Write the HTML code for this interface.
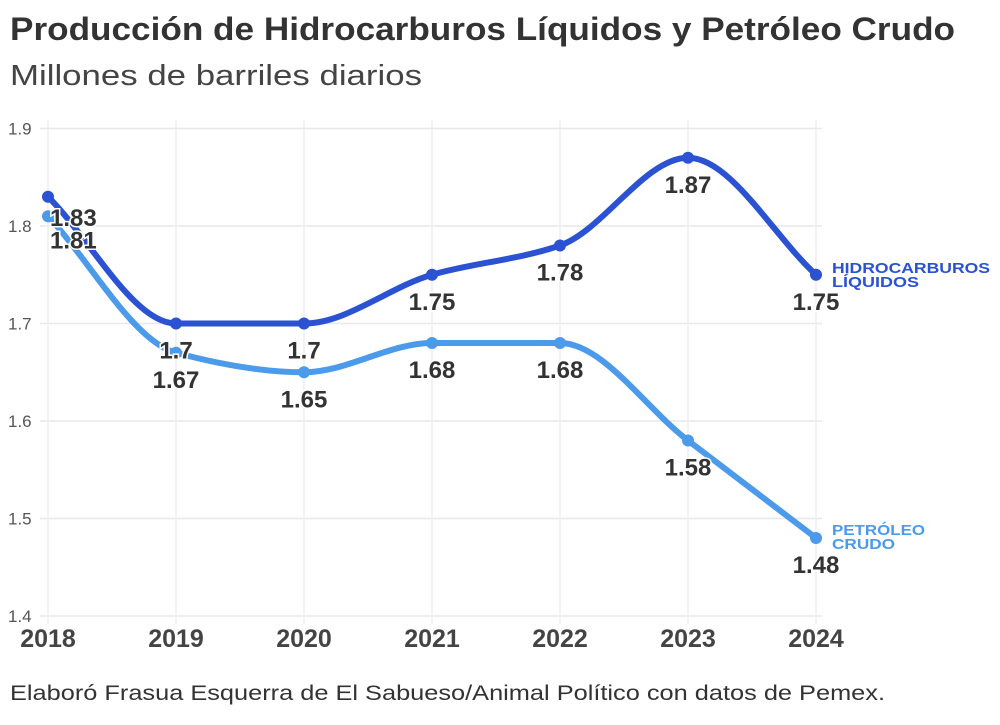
<!DOCTYPE html>
<html><head><meta charset="utf-8"><style>
body{margin:0;background:#fff;font-family:"Liberation Sans",sans-serif;}
svg text{font-family:"Liberation Sans",sans-serif;}
</style></head><body>
<svg id="c" width="1000" height="720">
<text x="10" y="40" font-size="32" font-weight="bold" fill="#333" textLength="945" lengthAdjust="spacingAndGlyphs">Producción de Hidrocarburos Líquidos y Petróleo Crudo</text>
<text x="10" y="85" font-size="29" fill="#444" textLength="412" lengthAdjust="spacingAndGlyphs">Millones de barriles diarios</text>
<text x="10" y="700" font-size="21" fill="#333" textLength="875" lengthAdjust="spacingAndGlyphs">Elaboró Frasua Esquerra de El Sabueso/Animal Político con datos de Pemex.</text>
<g id="grid"></g><g id="lines"></g><g id="labels"></g>
</svg>
<script>
const years=[2018,2019,2020,2021,2022,2023,2024];
const hidro=[1.83,1.7,1.7,1.75,1.78,1.87,1.75];
const crudo=[1.81,1.67,1.65,1.68,1.68,1.58,1.48];
const yTicks=[1.4,1.5,1.6,1.7,1.8,1.9];
const NS="http://www.w3.org/2000/svg";
const xS=i=>48+i*128;
const yS=v=>616-(v-1.4)*975;
function el(t,a,p){const e=document.createElementNS(NS,t);for(const k in a)e.setAttribute(k,a[k]);p.appendChild(e);return e;}
const grid=document.getElementById('grid'),lines=document.getElementById('lines'),labels=document.getElementById('labels');
yTicks.forEach(t=>{
 const l=el('line',{x1:40,x2:822,y1:yS(t),y2:yS(t),stroke:'#e8e8e8','stroke-width':1.5},grid);
 
 
 const tx=el('text',{x:8,y:yS(t)+6,'font-size':17,fill:'#555'},grid);tx.textContent=t.toFixed(1);
 
 
});
years.forEach((y,i)=>{
 const l=el('line',{x1:xS(i),x2:xS(i),y1:120,y2:624,stroke:'#eeeeee','stroke-width':1.5},grid);
 
 
 const tx=el('text',{x:xS(i),y:647,'font-size':25,'font-weight':'bold',fill:'#444','text-anchor':'middle'},grid);tx.textContent=y;
 
 
});
function monotone(pts){
 const n=pts.length,d=[],m=[];
 for(let i=0;i<n-1;i++)d.push((pts[i+1][1]-pts[i][1])/(pts[i+1][0]-pts[i][0]));
 for(let i=0;i<n;i++){
  if(i==0)m.push(d[0]);else if(i==n-1)m.push(d[n-2]);
  else m.push(d[i-1]*d[i]<=0?0:(2*d[i-1]*d[i])/(d[i-1]+d[i]));
 }
 let s=`M${pts[0][0]},${pts[0][1]}`;
 for(let i=0;i<n-1;i++){const h=(pts[i+1][0]-pts[i][0])/3;
  s+=`C${pts[i][0]+h},${pts[i][1]+m[i]*h} ${pts[i+1][0]-h},${pts[i+1][1]-m[i+1]*h} ${pts[i+1][0]},${pts[i+1][1]}`;}
 return s;
}
function series(vals,color,name,lblDy){
 const pts=vals.map((v,i)=>[xS(i),yS(v)]);
 const p=el('path',{d:monotone(pts),fill:'none',stroke:color,'stroke-width':6,'stroke-linecap':'round'},lines);
 
 
 pts.forEach((q,i)=>{
  const c=el('circle',{cx:q[0],cy:q[1],r:6,fill:color},lines);
  
  
  const t=el('text',{x:i==0?q[0]+2:q[0],y:i==0?q[1]+lblDy:q[1]+35,'font-size':24,'font-weight':'bold',fill:'#333','text-anchor':i==0?'start':'middle',stroke:'#fff','stroke-width':3,'paint-order':'stroke'},labels);
  t.textContent=vals[i];
  
  
 });
}
series(crudo,'#4c9aea','crudo',32);
series(hidro,'#2a52d2','hidro',29);
function legend(txts,y,color,name,w){txts.forEach((s,i)=>{const t=el('text',{x:832,y:y+i*14,'font-size':15,'font-weight':'bold',fill:color,textLength:w[i],lengthAdjust:'spacingAndGlyphs'},labels);t.textContent=s;
 
 });}
legend(['HIDROCARBUROS','LÍQUIDOS'],273,'#2a52d2','legend-hidrocarburos',[158,87]);
legend(['PETRÓLEO','CRUDO'],535,'#4c9aea','legend-petroleo',[93,63]);
</script>
</body></html>
